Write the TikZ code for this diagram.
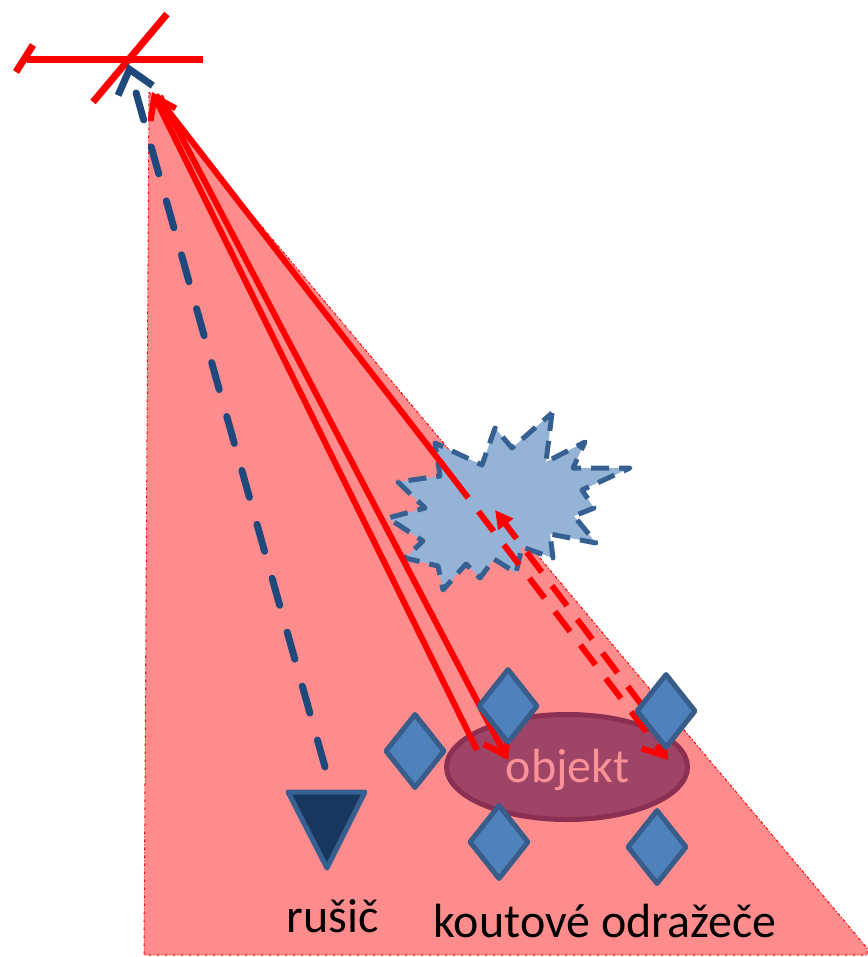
\documentclass[tikz,border=0pt]{standalone}
\usepackage{fontspec}
\setmainfont{Carlito}
\usetikzlibrary{arrows.meta,shapes.geometric}
\definecolor{zone}{RGB}{255,140,140}
\definecolor{navy}{RGB}{31,73,125}
\definecolor{reflf}{RGB}{79,129,189}
\definecolor{reflb}{RGB}{56,93,138}
\definecolor{burstf}{RGB}{149,179,215}
\definecolor{burstb}{RGB}{55,96,146}
\definecolor{objf}{RGB}{158,69,103}
\definecolor{objb}{RGB}{139,48,82}
\definecolor{objt}{RGB}{250,145,150}
\definecolor{jamf}{RGB}{23,55,94}
\tikzset{
  antline/.style={red, line width=7pt},
  beam/.style={red, line width=6pt},
  dbeam/.style={red, line width=6pt, dash pattern=on 25pt off 17pt},
  barb/.style={-{Straight Barb[length=20pt,width=28pt]}},
  reflbox/.style={diamond, draw=reflb, fill=reflf, line width=5pt, line join=round,
    minimum width=60pt, minimum height=75pt, inner sep=0pt},
  lbl/.style={font=\fontsize{48}{56}\selectfont, anchor=base, inner sep=0pt},
}
\begin{document}
\begin{tikzpicture}[x=1pt,y=-1pt]
\useasboundingbox (0,0) rectangle (867,957);
% coverage zone
\fill[zone] (149,92) -- (867,948) -- (867,955) -- (144,955) -- cycle;
\draw[red, line width=1pt, dash dot] (149,92) -- (867,948) -- (867,955) -- (144,955) -- cycle;
% antenna
\coordinate (ant) at (128,64);
\draw[antline] (27,60) -- (203,60);
\draw[antline] (16,72) -- (33,45);
\draw[antline] (93,102) -- (167,14);
% burst
\filldraw[fill=burstf, draw=burstb, line width=5pt, dash pattern=on 18pt off 10pt, line join=round]
 (552,413) -- (546,462) -- (585,442) -- (573,468) -- (630,468) -- (582,490) -- (594,508)
 -- (574,516) -- (596,543) -- (550,534) -- (553,558) -- (522,547) -- (516,573) -- (494,559)
 -- (480,578) -- (466,564) -- (443,590) -- (438,566) -- (405,558) -- (423,541) -- (388,518)
 -- (425,508) -- (398,482) -- (440,476) -- (435,443) -- (482,465) -- (495,428) -- (512,448) -- cycle;
% object
\node[ellipse, draw=objb, fill=objf, line width=5pt, minimum width=241pt, minimum height=105pt] (obj) at (567,767) {};
\node[lbl, text=objt] (objtxt) at (567.5,782) {objekt};
% beams
\coordinate (up0) at (477,750);
\coordinate (up1) at (152,92);
\coordinate (dn0) at (160,96);
\coordinate (dn1) at (508,760);
\coordinate (bs0) at (156,95);
\coordinate (bs1) at (453,478);
\coordinate (dd1) at (668,760);
\coordinate (du0) at (668,740);
\coordinate (du1) at (495,510);
\draw[beam, barb] (up0) -- (up1);
\draw[beam, barb] (dn0) -- (dn1);
\draw[beam] (bs0) -- (bs1);
\draw[dbeam, barb] (bs1) -- (dd1);
\draw[dbeam, -{Triangle[length=18pt,width=18pt]}] (du0) -- (du1);
% corner reflectors
\node[reflbox] (r1) at (415,751) {};
\node[reflbox] (r2) at (508,706) {};
\node[reflbox] (r3) at (666,711) {};
\node[reflbox] (r4) at (499,842) {};
\node[reflbox] (r5) at (657,847) {};
% jammer
\filldraw[fill=jamf, draw=burstb, line width=5pt, line join=round] (288,792) -- (365,792) -- (327,868) -- cycle;
\coordinate (jam) at (325,767);
\draw[navy, line width=7pt, line cap=round, dash pattern=on 28pt off 28pt,
  -{Straight Barb[length=22pt,width=36pt]}] (jam) -- (ant);
% labels
\node[lbl] (rusic) at (333,932) {rušič};
\node[lbl] (kout) at (605,937) {koutové odražeče};
\end{tikzpicture}
\end{document}
